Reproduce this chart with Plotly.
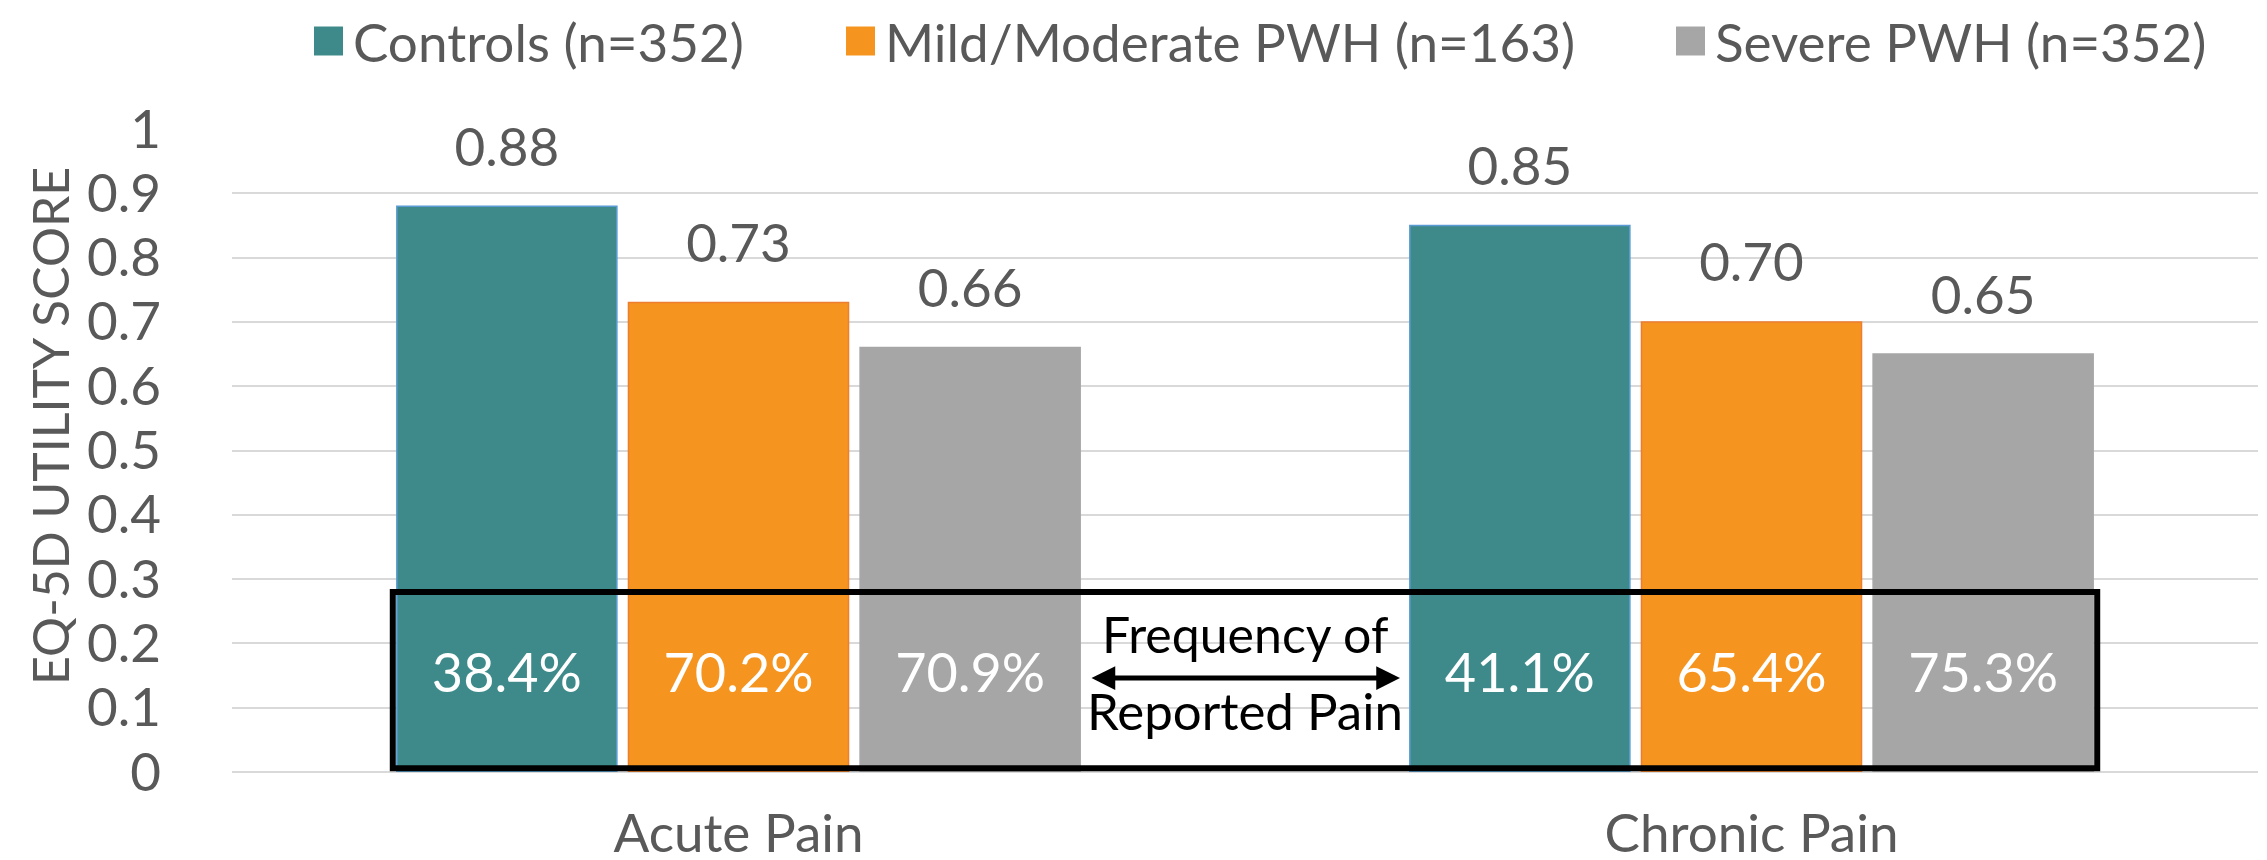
import plotly.graph_objects as go

# ---------------- data ----------------
categories = ["Acute Pain", "Chronic Pain"]
series_names = ["Controls (n=352)", "Mild/Moderate PWH (n=163)", "Severe PWH (n=352)"]
controls_score = [0.88, 0.85]
mild_moderate_score = [0.73, 0.70]
severe_score = [0.66, 0.65]
controls_pain_pct = [38.4, 41.1]
mild_moderate_pain_pct = [70.2, 65.4]
severe_pain_pct = [70.9, 75.3]
y_tick_values = [0, 0.1, 0.2, 0.3, 0.4, 0.5, 0.6, 0.7, 0.8, 0.9, 1]
y_title = "EQ-5D UTILITY SCORE"
box_label_top = "Frequency of"
box_label_bottom = "Reported Pain"

# ---------------- style ----------------
W, H = 2267, 860
ML, MR, MT, MB = 224, 17, 121, 96
FONT = "Lato"
GREY_TEXT = "#595959"
colors = ["#3E8A8A", "#F5951F", "#A6A6A6"]
outlines = ["#5B9BD5", "#ED7D31", "#A6A6A6"]
BARGAP = 0.314
BARGROUPGAP = 0.05
PCT_LABEL_Y = 0.145
BOX_TOP = 0.28
BOX_BOTTOM = 0.006
ARROW_Y = 0.146
ARROW_HALF = 0.153

scores = [controls_score, mild_moderate_score, severe_score]
pcts = [controls_pain_pct, mild_moderate_pain_pct, severe_pain_pct]

fig = go.Figure()
for i, name in enumerate(series_names):
    fig.add_trace(go.Bar(
        x=categories, y=scores[i], name=name, showlegend=False,
        marker=dict(color=colors[i], line=dict(color=outlines[i], width=1.5)),
        offsetgroup=str(i), alignmentgroup="a",
    ))
for i, name in enumerate(series_names):
    # value labels above bars
    fig.add_trace(go.Scatter(
        x=categories, y=scores[i], mode="markers+text", showlegend=False,
        text=[f"{v:.2f}" for v in scores[i]], textposition="top center",
        textfont=dict(family=FONT, size=53, color=GREY_TEXT),
        marker=dict(size=42, opacity=0), offsetgroup=str(i), alignmentgroup="a",
        hoverinfo="skip", cliponaxis=False,
    ))
    # pain frequency labels inside bars
    fig.add_trace(go.Scatter(
        x=categories, y=[PCT_LABEL_Y] * len(categories), mode="text", showlegend=False,
        text=[f"{v:.1f}%" for v in pcts[i]], textposition="middle center",
        textfont=dict(family=FONT, size=54, color="white"),
        offsetgroup=str(i), alignmentgroup="a", hoverinfo="skip",
    ))

slot = (1 - BARGAP) / 3
half_group = 1.5 * slot - slot * BARGROUPGAP / 2
shapes = [dict(type="rect", xref="x", yref="y",
               x0=-half_group - 0.004, x1=len(categories) - 1 + half_group + 0.004,
               y0=BOX_BOTTOM, y1=BOX_TOP,
               line=dict(color="black", width=6), fillcolor="rgba(0,0,0,0)", layer="above")]

annotations = [
    dict(x=0.5 + ARROW_HALF, y=ARROW_Y, ax=0.5 - ARROW_HALF, ay=ARROW_Y,
         xref="x", yref="y", axref="x", ayref="y", text="", showarrow=True,
         arrowside="end+start", arrowhead=2, arrowsize=0.95, arrowwidth=5, arrowcolor="black"),
    dict(x=0.5, y=0.214, xref="x", yref="y", text=box_label_top, showarrow=False,
         font=dict(family=FONT, size=50, color="black")),
    dict(x=0.5, y=0.096, xref="x", yref="y", text=box_label_bottom, showarrow=False,
         font=dict(family=FONT, size=51, color="black")),
]

plot_w = W - ML - MR
plot_h = H - MT - MB

# y-axis title as rotated annotation
annotations.append(dict(x=(42 - ML) / plot_w, y=(H - MB - 418) / plot_h, xref="paper", yref="paper",
                        text=y_title, textangle=-90, showarrow=False, xanchor="center", yanchor="middle",
                        font=dict(family=FONT, size=50, color=GREY_TEXT)))

# custom legend (large square swatches)
legend_x_px = [306, 838, 1668]
sw = 29
leg_cy = 33
for i, name in enumerate(series_names):
    x0 = (legend_x_px[i] - ML) / plot_w
    x1 = (legend_x_px[i] + sw - ML) / plot_w
    y0 = (H - MB - (leg_cy + sw / 2)) / plot_h
    y1 = (H - MB - (leg_cy - sw / 2)) / plot_h
    shapes.append(dict(type="rect", xref="paper", yref="paper", x0=x0, x1=x1, y0=y0, y1=y1,
                       line=dict(width=0), fillcolor=colors[i]))
    annotations.append(dict(x=(legend_x_px[i] + sw + 8 - ML) / plot_w,
                            y=(H - MB - leg_cy) / plot_h, xref="paper", yref="paper",
                            xanchor="left", yanchor="middle", text=name, showarrow=False,
                            font=dict(family=FONT, size=53, color=GREY_TEXT)))

fig.update_layout(
    width=W, height=H, margin=dict(l=ML, r=MR, t=MT, b=MB, autoexpand=False),
    paper_bgcolor="white", plot_bgcolor="white",
    barmode="group", bargap=BARGAP, bargroupgap=BARGROUPGAP,
    scattermode="group", scattergap=BARGAP,
    showlegend=False, shapes=shapes, annotations=annotations,
    font=dict(family=FONT, color=GREY_TEXT),
)
fig.update_xaxes(type="category", showgrid=False, showline=False, zeroline=False,
                 tickfont=dict(family=FONT, size=53, color=GREY_TEXT),
                 ticks="", ticklabelstandoff=26, automargin=False)
fig.update_yaxes(range=[0, 1], tickvals=y_tick_values, showgrid=True, gridcolor="#D9D9D9",
                 gridwidth=2, zeroline=True, zerolinecolor="#D9D9D9", zerolinewidth=2,
                 showline=False, tickfont=dict(family=FONT, size=53, color=GREY_TEXT),
                 ticks="", ticklabelstandoff=70, automargin=False)

fig.write_html("out.html")
